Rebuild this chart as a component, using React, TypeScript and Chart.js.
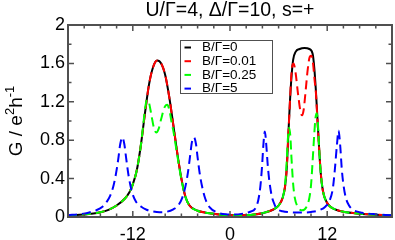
import React, { useEffect, useRef } from 'react';
import { Chart, registerables } from 'chart.js';

Chart.register(...registerables);

const TITLE = 'U/Γ=4, Δ/Γ=10, s=+';
const LABELS = ['B/Γ=0', 'B/Γ=0.01', 'B/Γ=0.25', 'B/Γ=5'];
const COLORS = ['#000000', '#ff0000', '#00ff00', '#0000ff'];

const X_LABELED = [-12, 0, 12];
const X_TICKS = [-20, -18, -16, -14, -12, -10, -8, -6, -4, -2, 0, 2, 4, 6, 8, 10, 12, 14, 16, 18, 20];
const Y_LABELED = [0, 0.4, 0.8, 1.2, 1.6, 2];
const Y_TICK_TEXT = ['0', '0.4', '0.8', '1.2', '1.6', '2'];
const Y_MINOR = [0.2, 0.6, 1.0, 1.4, 1.8];

// B/Γ=0
const b0X = [-20, -18, -16, -15, -14, -13, -12.4, -12, -11.5, -11, -10.5, -10, -9.5, -9, -8.5, -8, -7.5, -7, -6.5, -6, -5.5, -5, -4, -3, -2, 0, 2, 3, 4, 5, 5.5, 6, 6.5, 6.8, 7, 7.2, 7.4, 7.6, 7.8, 8.1, 8.6, 9.2, 9.8, 10.2, 10.4, 10.6, 10.8, 11, 11.2, 11.5, 12, 12.5, 13, 14, 16, 18, 20];
const b0Y = [0.015, 0.025, 0.05, 0.075, 0.12, 0.19, 0.26, 0.34, 0.49, 0.75, 1.08, 1.38, 1.56, 1.63, 1.6, 1.48, 1.25, 0.96, 0.66, 0.4, 0.21, 0.12, 0.065, 0.045, 0.033, 0.018, 0.02, 0.027, 0.04, 0.065, 0.085, 0.12, 0.2, 0.32, 0.5, 0.85, 1.2, 1.47, 1.64, 1.72, 1.75, 1.76, 1.75, 1.7, 1.56, 1.32, 1.02, 0.72, 0.46, 0.26, 0.145, 0.1, 0.078, 0.055, 0.035, 0.024, 0.017];

// B/Γ=0.01
const b001X = [-20, -18, -16, -15, -14, -13, -12.4, -12, -11.5, -11, -10.5, -10, -9.5, -9, -8.5, -8, -7.5, -7, -6.5, -6, -5.5, -5, -4, -3, -2, 0, 2, 3, 4, 5, 5.5, 6, 6.5, 6.8, 7, 7.2, 7.4, 7.55, 7.7, 7.85, 8.1, 8.4, 8.7, 8.9, 9.1, 9.3, 9.6, 9.85, 10.05, 10.25, 10.45, 10.6, 10.8, 11, 11.2, 11.5, 12, 12.5, 13, 14, 16, 18, 20];
const b001Y = [0.015, 0.025, 0.05, 0.075, 0.12, 0.19, 0.26, 0.34, 0.49, 0.75, 1.08, 1.38, 1.56, 1.63, 1.6, 1.48, 1.25, 0.96, 0.66, 0.4, 0.21, 0.12, 0.065, 0.045, 0.033, 0.018, 0.02, 0.027, 0.04, 0.065, 0.085, 0.12, 0.2, 0.32, 0.5, 0.85, 1.2, 1.45, 1.58, 1.6, 1.5, 1.28, 1.1, 1.06, 1.12, 1.28, 1.54, 1.67, 1.68, 1.6, 1.42, 1.3, 1.0, 0.72, 0.46, 0.26, 0.145, 0.1, 0.078, 0.055, 0.035, 0.024, 0.017];

// B/Γ=0.25
const b025X = [-20, -18, -16, -15, -14, -13, -12.4, -12, -11.5, -11, -10.7, -10.45, -10.25, -10.0, -9.7, -9.4, -9.1, -8.8, -8.5, -8.1, -7.75, -7.45, -7.2, -7, -6.5, -6, -5.5, -5, -4, -3, -2, 0, 2, 3, 4, 5, 5.5, 6, 6.5, 6.8, 7, 7.15, 7.3, 7.45, 7.6, 7.8, 8, 8.4, 8.9, 9.4, 9.8, 10, 10.2, 10.4, 10.55, 10.7, 10.85, 11, 11.2, 11.5, 12, 12.5, 13, 14, 16, 18, 20];
const b025Y = [0.015, 0.025, 0.05, 0.075, 0.12, 0.19, 0.26, 0.34, 0.49, 0.75, 0.97, 1.15, 1.22, 1.19, 1.06, 0.93, 0.88, 0.92, 1.02, 1.14, 1.17, 1.1, 0.98, 0.9, 0.64, 0.39, 0.21, 0.12, 0.065, 0.045, 0.033, 0.018, 0.02, 0.027, 0.04, 0.065, 0.085, 0.12, 0.2, 0.34, 0.58, 0.82, 0.93, 0.84, 0.6, 0.34, 0.2, 0.1, 0.07, 0.1, 0.2, 0.33, 0.58, 0.86, 1.03, 1.08, 0.98, 0.72, 0.46, 0.26, 0.145, 0.1, 0.078, 0.055, 0.035, 0.024, 0.017];

// B/Γ=5
const b5X = [-20, -18.5, -17.5, -16.5, -15.7, -15.2, -14.8, -14.4, -14.1, -13.8, -13.55, -13.3, -13.05, -12.8, -12.5, -12.1, -11.6, -11, -10.3, -9.5, -8.7, -7.8, -7, -6.4, -5.9, -5.5, -5.2, -4.95, -4.7, -4.45, -4.2, -4.0, -3.75, -3.45, -3.05, -2.5, -1.65, -0.5, 0.5, 1.6, 2.5, 3.1, 3.5, 3.75, 3.95, 4.12, 4.3, 4.48, 4.65, 4.85, 5.15, 5.5, 5.8, 6.5, 7.3, 8.2, 9.0, 10.0, 11.0, 11.8, 12.3, 12.7, 12.95, 13.2, 13.4, 13.6, 13.8, 14.0, 14.3, 14.7, 15.1, 16.0, 17.7, 20];
const b5Y = [0.02, 0.03, 0.045, 0.07, 0.11, 0.16, 0.22, 0.32, 0.44, 0.6, 0.76, 0.83, 0.76, 0.6, 0.42, 0.26, 0.16, 0.11, 0.076, 0.058, 0.05, 0.055, 0.08, 0.12, 0.2, 0.32, 0.46, 0.62, 0.78, 0.83, 0.76, 0.62, 0.46, 0.32, 0.19, 0.1, 0.05, 0.028, 0.025, 0.035, 0.055, 0.085, 0.18, 0.32, 0.52, 0.75, 0.89, 0.75, 0.55, 0.38, 0.22, 0.13, 0.085, 0.06, 0.05, 0.046, 0.046, 0.052, 0.07, 0.11, 0.17, 0.3, 0.5, 0.75, 0.9, 0.75, 0.5, 0.34, 0.2, 0.12, 0.08, 0.05, 0.03, 0.018];

const SERIES_X = [b0X, b001X, b025X, b5X];
const SERIES_Y = [b0Y, b001Y, b025Y, b5Y];

const FONT = "'Liberation Sans', Arial, Helvetica, sans-serif";
const AXIS_COLOR = '#505050';

const decorPlugin = {
  id: 'decor',
  afterDraw(chart: any) {
    const { ctx, chartArea: a, scales } = chart;
    const xs = scales.x;
    const ys = scales.y;
    ctx.save();
    ctx.setLineDash([]);

    // inward ticks on all four sides
    ctx.strokeStyle = AXIS_COLOR;
    ctx.lineWidth = 1.5;
    ctx.beginPath();
    for (const v of X_TICKS) {
      const p = xs.getPixelForValue(v);
      const len = X_LABELED.includes(v) ? 6 : 3.5;
      ctx.moveTo(p, a.bottom);
      ctx.lineTo(p, a.bottom - len);
      ctx.moveTo(p, a.top);
      ctx.lineTo(p, a.top + len);
    }
    const yAll = [...Y_LABELED.map((v) => [v, 6]), ...Y_MINOR.map((v) => [v, 3.5])];
    for (const [v, len] of yAll) {
      const p = ys.getPixelForValue(v);
      ctx.moveTo(a.left, p);
      ctx.lineTo(a.left + len, p);
      ctx.moveTo(a.right, p);
      ctx.lineTo(a.right - len, p);
    }
    ctx.stroke();

    // frame
    ctx.lineWidth = 2;
    ctx.strokeRect(a.left, a.top, a.right - a.left, a.bottom - a.top);

    // title
    ctx.fillStyle = '#000';
    ctx.font = `19.5px ${FONT}`;
    ctx.textAlign = 'center';
    ctx.textBaseline = 'middle';
    ctx.fillText(TITLE, (a.left + a.right) / 2, 10.5);

    // y axis title with superscripts
    ctx.save();
    ctx.translate(22, (a.top + a.bottom) / 2);
    ctx.rotate(-Math.PI / 2);
    ctx.textAlign = 'left';
    ctx.textBaseline = 'alphabetic';
    const big = `19px ${FONT}`;
    const small = `13px ${FONT}`;
    const parts: [string, string, number][] = [
      ['G / e', big, 0],
      ['2', small, -8],
      ['h', big, 0],
      ['-1', small, -8],
    ];
    let total = 0;
    for (const [t, f] of parts) {
      ctx.font = f;
      total += ctx.measureText(t).width;
    }
    let cx = -total / 2;
    for (const [t, f, dy] of parts) {
      ctx.font = f;
      ctx.fillText(t, cx, dy);
      cx += ctx.measureText(t).width;
    }
    ctx.restore();

    // legend
    const lx = 180;
    const ly = 40;
    const lw = 92;
    const lh = 53;
    ctx.fillStyle = '#fff';
    ctx.fillRect(lx, ly, lw, lh);
    ctx.strokeStyle = AXIS_COLOR;
    ctx.lineWidth = 1;
    ctx.strokeRect(lx + 0.5, ly + 0.5, lw, lh);
    ctx.font = `13.5px ${FONT}`;
    ctx.textAlign = 'left';
    ctx.textBaseline = 'middle';
    chart.data.datasets.forEach((ds: any, i: number) => {
      const y = ly + 7.5 + i * 13.7;
      ctx.setLineDash([]);
      ctx.strokeStyle = ds.borderColor;
      ctx.lineWidth = 2;
      ctx.beginPath();
      ctx.moveTo(lx + 4.5, y);
      ctx.lineTo(lx + 11, y);
      ctx.stroke();
      ctx.fillStyle = '#000';
      ctx.fillText(ds.label, lx + 22, y);
    });

    ctx.restore();
  },
};

export default function App() {
  const ref = useRef<HTMLCanvasElement>(null);
  useEffect(() => {
    const datasets = SERIES_X.map((xs, i) => ({
      label: LABELS[i],
      data: xs.map((x, j) => ({ x, y: SERIES_Y[i][j] })),
      borderColor: COLORS[i],
      backgroundColor: COLORS[i],
      borderWidth: 2,
      borderDash: i === 0 ? [] : [9, 5],
      pointRadius: 0,
      fill: false,
      cubicInterpolationMode: 'monotone' as const,
      order: 4 - i,
    }));
    const chart = new Chart(ref.current as HTMLCanvasElement, {
      type: 'line',
      data: { datasets },
      options: {
        animation: false,
        responsive: false,
        maintainAspectRatio: false,
        layout: { padding: { top: 25, right: 3, left: 0, bottom: 0 } },
        plugins: {
          legend: { display: false },
          title: { display: false },
          tooltip: { enabled: false },
        },
        scales: {
          x: {
            type: 'linear',
            min: -20,
            max: 20,
            grid: { display: false, drawTicks: false },
            border: { display: false },
            afterBuildTicks: (s: any) => {
              s.ticks = X_LABELED.map((v) => ({ value: v }));
            },
            afterFit: (s: any) => {
              s.height = 23;
            },
            ticks: {
              autoSkip: false,
              maxRotation: 0,
              padding: 7,
              color: '#000',
              font: { family: FONT, size: 18 },
              callback: (v: any) => String(v),
            },
          },
          y: {
            type: 'linear',
            min: 0,
            max: 2,
            grid: { display: false, drawTicks: false },
            border: { display: false },
            afterBuildTicks: (s: any) => {
              s.ticks = Y_LABELED.map((v) => ({ value: v }));
            },
            afterFit: (s: any) => {
              s.width = 68;
            },
            ticks: {
              autoSkip: false,
              padding: 3,
              color: '#000',
              font: { family: FONT, size: 18 },
              callback: (v: any, idx: number) => Y_TICK_TEXT[idx] ?? String(v),
            },
          },
        },
      },
      plugins: [decorPlugin],
    } as any);
    return () => chart.destroy();
  }, []);
  return (
    <div style={{ position: 'fixed', left: 0, top: 0, width: 395, height: 240, background: '#fff' }}>
      <canvas ref={ref} width={395} height={240} style={{ display: 'block', width: 395, height: 240 }} />
    </div>
  );
}
